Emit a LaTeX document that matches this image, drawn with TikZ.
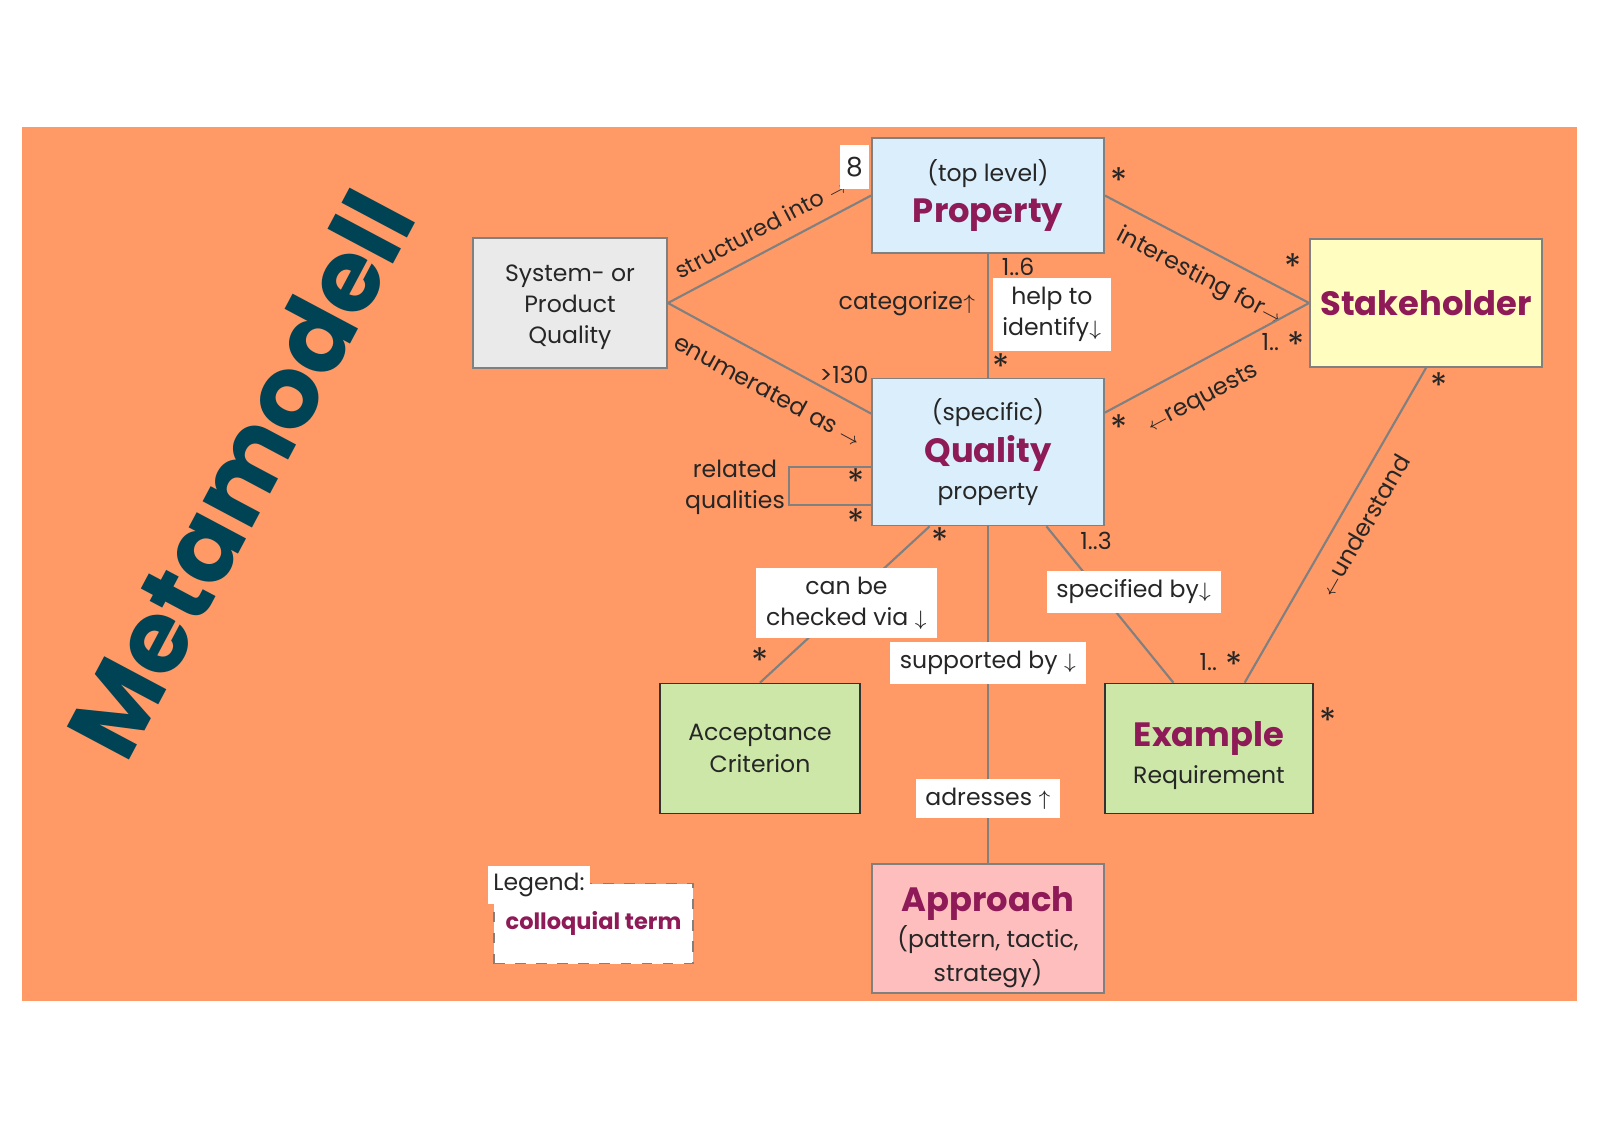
\documentclass[tikz,border=0pt]{standalone}
\usepackage{fontspec}
\usepackage{graphicx}
\setmainfont{Poppins}
\usetikzlibrary{positioning, calc}
\definecolor{bgorange}{HTML}{FF9966}
\definecolor{qualblue}{HTML}{DAEEFB}
\definecolor{sysgray}{HTML}{EAEAEA}
\definecolor{stakeyellow}{HTML}{FFFDBF}
\definecolor{reqgreen}{HTML}{CDE7A8}
\definecolor{apprpink}{HTML}{FFBEBE}
\definecolor{plum}{HTML}{8E1A57}
\definecolor{petrol}{HTML}{004354}
\definecolor{linegray}{HTML}{808080}

\newcommand{\term}[1]{{\fontsize{9.6}{11.5}\selectfont\bfseries\color{plum}#1}}
\newcommand{\rarr}{\scalebox{0.75}{$\rightarrow$}}
\newcommand{\larr}{\scalebox{0.75}{$\leftarrow$}}
\newcommand{\uarr}{\scalebox{0.85}{$\uparrow$}}
\newcommand{\darr}{\scalebox{0.85}{$\downarrow$}}
\newcommand{\mstar}{\raisebox{-0.3em}{\fontsize{10}{10}\selectfont *}}

\begin{document}
\begin{tikzpicture}[
    every node/.style={font=\fontsize{6.7}{8.8}\selectfont, text=black!85},
    box/.style={rectangle, draw=linegray, line width=0.5pt, align=center, inner sep=0pt},
    conn/.style={draw=linegray, line width=0.6pt},
    tag/.style={fill=white, inner xsep=2.8pt, inner ysep=2.6pt, align=center},
    mult/.style={inner sep=1pt}
  ]
  \useasboundingbox (0,0) rectangle (16,-11.31);
  \fill[bgorange] (0.224,-1.265) rectangle (15.765,-10.01);

  % Title
  \node[rotate=62, font=\fontsize{28.5}{30}\selectfont\bfseries, text=petrol] (title) at (2.40,-4.74) {Metamodell};

  % Classes
  \node[box, fill=sysgray, minimum width=1.94cm, minimum height=1.30cm] (sys) at (5.70,-3.03) {\rule{0pt}{7pt}System- or\\Product\\Quality};
  \node[box, fill=qualblue, minimum width=2.32cm, minimum height=1.15cm] (prop) at (9.88,-1.955) {(top level)\\[3pt]\term{Property}};
  \node[box, fill=stakeyellow, minimum width=2.32cm, minimum height=1.28cm] (stake) at (14.26,-3.03) {\term{Stakeholder}};
  \node[box, fill=qualblue, minimum width=2.32cm, minimum height=1.47cm] (qual) at (9.88,-4.52) {(specific)\\[1.5pt]\term{Quality}\\[1.8pt]property};
  \node[box, fill=reqgreen, draw=black!80, minimum width=2.00cm, minimum height=1.30cm] (accept) at (7.60,-7.485) {Acceptance\\[0.5pt]Criterion};
  \node[box, fill=reqgreen, draw=black!80, minimum width=2.08cm, minimum height=1.30cm] (examp) at (12.09,-7.485) {\rule{0pt}{11pt}\term{Example}\\[1.8pt]Requirement};
  \node[box, fill=apprpink, minimum width=2.32cm, minimum height=1.29cm] (appr) at (9.88,-9.285) {\rule{0pt}{12pt}\term{Approach}\\[0.5pt](pattern, tactic,\\[1pt]strategy)};

  % Associations
  \draw[conn] (sys.east) -- (prop.west) node[pos=0.51, sloped, above=0.5pt, font=\fontsize{6.4}{8}\selectfont] {structured into \rarr};
  \draw[conn] (sys.east) -- ($(qual.north west)+(0,-0.36)$) node[pos=0.56, sloped, below=2pt] {enumerated as \rarr};
  \draw[conn] (prop.south) -- (qual.north) node[pos=0.4, left=0pt] {categorize\uarr} node[pos=0.49, right=1pt, tag] {help to\\identify\darr};
  \draw[conn] (prop.east) -- (stake.west) node[pos=0.53, sloped, below=1pt] {interesting for\rarr};
  \draw[conn] ($(qual.north east)+(0,-0.35)$) -- (stake.west) node[pos=0.40, sloped, below=3pt] {\larr requests};
  \draw[conn] ($(qual.north west)+(0,-0.894)$) -- ++(-0.82,0) -- ++(0,-0.38) -- ($(qual.north west)+(0,-1.274)$);
  \draw[conn] ($(qual.south west)!0.25!(qual.south east)$) -- (accept.north) node[pos=0.49, tag] {can be\\checked via \darr};
  \draw[conn] (qual.south) -- (appr.north) node[pos=0.406, tag] {supported by \darr} node[pos=0.808, tag] {adresses \uarr};
  \draw[conn] ($(qual.south west)!0.75!(qual.south east)$) -- ($(examp.north west)!0.33!(examp.north east)$) node[pos=0.42, tag, xshift=0.34cm] {specified by\darr};
  \draw[conn] ($(examp.north west)!0.67!(examp.north east)$) -- (stake.south) node[pos=0.54, sloped, below=1pt] {\larr understand};

  % Multiplicities
  \node[fill=white, inner sep=0pt, minimum width=0.29cm, minimum height=0.44cm, font=\fontsize{7.5}{9}\selectfont] (m8) at (8.545,-1.67) {8};
  \node[mult] (m130) at (8.44,-3.75) {>130};
  \node[mult] (m16) at (10.18,-2.67) {1..6};
  \node[mult] (mqt) at (10.01,-3.67) {\mstar};
  \node[mult] (mpr) at (11.19,-1.81) {\mstar};
  \node[mult] (msa) at (12.93,-2.67) {\mstar};
  \node[mult] (msb) at (12.83,-3.45) {1.. \mstar};
  \node[mult] (mqr) at (11.19,-4.28) {\mstar};
  \node[mult] (mra) at (8.56,-4.82) {\mstar};
  \node[mult] (mrb) at (8.56,-5.22) {\mstar};
  \node[mult] (mqb) at (9.40,-5.41) {\mstar};
  \node[mult] (mac) at (7.60,-6.61) {\mstar};
  \node[mult] (m13) at (10.96,-5.41) {1..3};
  \node[mult] (mex) at (12.21,-6.65) {1.. \mstar};
  \node[mult] (msb2) at (14.39,-3.86) {\mstar};
  \node[mult] (mer) at (13.28,-7.21) {\mstar};
  \node[align=center] (rel) at (7.35,-4.87) {related\\qualities};

  % Legend
  \node[box, dashed, fill=white, minimum width=1.99cm, minimum height=0.80cm] (legbox) at (5.935,-9.235) {\fontsize{6.4}{8}\selectfont\bfseries\color{plum}colloquial term};
  \node[fill=white, inner sep=0pt, minimum width=1.02cm, minimum height=0.38cm] (leglabel) at (5.39,-8.85) {Legend:};
\end{tikzpicture}
\end{document}
